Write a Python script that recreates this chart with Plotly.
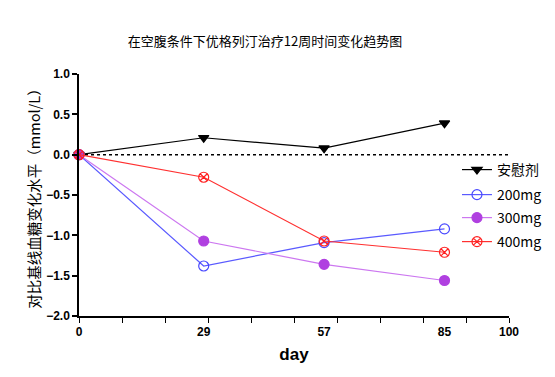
import plotly.graph_objects as go

days = [0, 29, 57, 85]
placebo = [0.0, 0.21, 0.08, 0.39]
mg200 = [0.0, -1.38, -1.09, -0.92]
mg300 = [0.0, -1.07, -1.36, -1.56]
mg400 = [0.0, -0.28, -1.07, -1.21]
x_tick_vals = [0, 29, 57, 85, 100]
y_tick_vals = [-2.0, -1.5, -1.0, -0.5, 0.0, 0.5, 1.0]

fig = go.Figure()

# dotted zero line
fig.add_trace(go.Scatter(x=[0, 100], y=[0, 0], mode="lines",
                         line=dict(color="black", width=1.5, dash="dot"),
                         showlegend=False, hoverinfo="skip"))

series = [
    ("安慰剂", placebo, "black", "black", "triangle-down", 9),
    ("200mg", mg200, "#5a5aff", "#4848ff", "circle-open", 10),
    ("300mg", mg300, "#cc77f0", "#b040e0", "circle", 10),
    ("400mg", mg400, "#ff3030", "#ff2020", "circle-x-open", 10),
]
legend_names = ["legend", "legend2", "legend3", "legend4"]
for (name, vals, lc, mc, sym, sz), lg in zip(series, legend_names):
    fig.add_trace(go.Scatter(
        x=days, y=vals, name=name, mode="lines+markers", legend=lg,
        line=dict(color=lc, width=1.2),
        marker=dict(symbol=sym, size=sz, color=mc, line=dict(color=mc, width=1.2)),
        cliponaxis=False))

legend_common = dict(xref="paper", yref="paper", xanchor="left", yanchor="middle",
                     font=dict(family="Noto Sans CJK SC, Liberation Sans", size=14, color="black"),
                     itemwidth=30, bgcolor="rgba(0,0,0,0)", borderwidth=0)
legend_y = [170, 195, 218, 242]
legend_layout = {}
for lg, py in zip(legend_names, legend_y):
    legend_layout[lg] = dict(x=0.879, y=(316 - py) / 242, **legend_common)

fig.update_layout(
    width=555, height=377,
    margin=dict(l=71, r=54, t=66, b=69, autoexpand=False),
    paper_bgcolor="white", plot_bgcolor="white",
    title=dict(text="在空腹条件下优格列汀治疗12周时间变化趋势图",
               x=0.463, xanchor="center", y=0.91, yanchor="middle",
               font=dict(family="Noto Sans CJK SC", size=13, color="black")),
    font=dict(family="Liberation Sans, Arial", color="black"),
    xaxis=dict(range=[0, 100], tickvals=x_tick_vals, ticktext=[str(v) for v in x_tick_vals],
               ticks="", showline=True, linecolor="black", linewidth=1.5,
               showgrid=False, zeroline=False, ticklabelstandoff=4,
               tickfont=dict(size=12, family="Liberation Sans", weight="bold"),
               title=dict(text="day", font=dict(size=17, family="Liberation Sans", weight="bold"), standoff=10),
               minor=dict(tickvals=list(range(0, 101, 10)), ticks="outside", ticklen=5,
                          tickcolor="black", tickwidth=1.2)),
    yaxis=dict(range=[-2.0, 1.0], tickvals=y_tick_vals, tickformat=".1f",
               ticks="outside", ticklen=5, tickwidth=1.5, tickcolor="black",
               showline=True, linecolor="black", linewidth=1.5,
               showgrid=False, zeroline=False,
               tickfont=dict(size=12, family="Liberation Sans", weight="bold"),
               title=dict(text="对比基线血糖变化水平（mmol/L）",
                          font=dict(size=14.5, family="Noto Sans CJK SC"), standoff=2)),
    **legend_layout,
)

fig.write_html("out.html")
